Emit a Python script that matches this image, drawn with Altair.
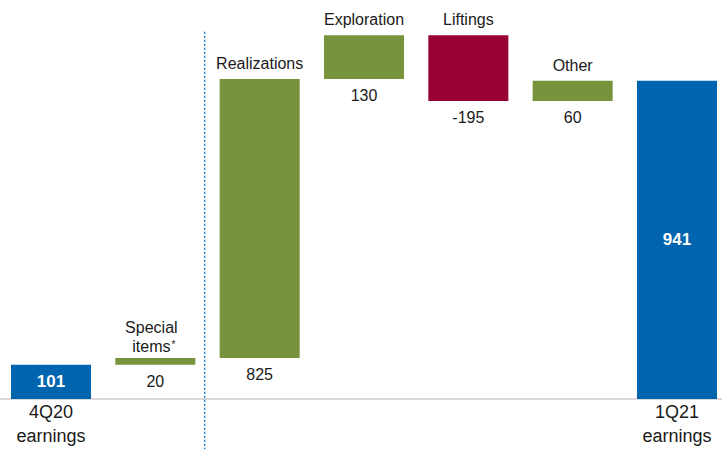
import altair as alt
import pandas as pd

# Earnings bridge, 4Q20 -> 1Q21 ($MM)
keys = ["q4", "special", "realiz", "explor", "lift", "other", "q1"]
amounts = [101, 20, 825, 130, -195, 60, 941]
kinds = ["total", "delta", "delta", "delta", "delta", "delta", "total"]
top_labels = ["", "Special\nitems", "Realizations", "Exploration", "Liftings", "Other", ""]
bottom_labels = ["4Q20\nearnings", "", "", "", "", "", "1Q21\nearnings"]

BLUE = "#0064AF"
GREEN = "#77933C"
RED = "#990033"

rows = []
running = 0
for k, a, kind, tl, bl in zip(keys, amounts, kinds, top_labels, bottom_labels):
    if kind == "total":
        start, end = 0, a
        running = a
    else:
        start, end = running, running + a
        running = end
    color = BLUE if kind == "total" else (GREEN if a >= 0 else RED)
    rows.append(dict(key=k, amount=a, kind=kind, start=start, end=end,
                     hi=max(start, end), lo=min(start, end), mid=(start + end) / 2,
                     color=color, toplab=tl, botlab=bl,
                     val=str(a)))
df = pd.DataFrame(rows)

x = alt.X("key:N", sort=keys, axis=None,
          scale=alt.Scale(paddingInner=0.233, paddingOuter=0))
y_scale = alt.Scale(domain=[0, 1180], nice=False, zero=True)

base = alt.Chart(df)

bars = base.mark_bar().encode(
    x=x,
    y=alt.Y("start:Q", scale=y_scale, axis=None),
    y2="end:Q",
    color=alt.Color("color:N", scale=None),
)

font = "Liberation Sans"
INK = "#1a1a1a"

# single-line captions above the bars
top_text = base.transform_filter(
    "datum.toplab != '' && indexof(datum.toplab, '\\n') < 0"
).mark_text(
    baseline="bottom", dy=-7, fontSize=16, font=font, color=INK,
).encode(x=x, y=alt.Y("hi:Q", scale=y_scale, axis=None), text="toplab:N")

# two-line caption (Special items)
top_text2 = base.transform_filter(
    "indexof(datum.toplab, '\\n') >= 0"
).mark_text(
    baseline="bottom", dx=-4, dy=-22, fontSize=16, font=font, color=INK,
    lineBreak="\n", lineHeight=19,
).encode(x=x, y=alt.Y("hi:Q", scale=y_scale, axis=None), text="toplab:N")

star = base.transform_filter("datum.key == 'special'").mark_text(
    baseline="top", dx=18, dy=-18, fontSize=10, font=font, color=INK, text="*",
).encode(x=x, y=alt.Y("hi:Q", scale=y_scale, axis=None))

delta_vals = base.transform_filter("datum.kind == 'delta'").mark_text(
    baseline="middle", dy=17, fontSize=16, font=font, color=INK,
).encode(x=x, y=alt.Y("lo:Q", scale=y_scale, axis=None), text="val:N")

total_vals = base.transform_filter("datum.kind == 'total'").mark_text(
    baseline="middle", fontSize=17, fontWeight="bold", font=font, color="white",
).encode(x=x, y=alt.Y("mid:Q", scale=y_scale, axis=None), text="val:N")

bottom_text = base.transform_filter("datum.botlab != ''").mark_text(
    baseline="top", dy=5, fontSize=18, font=font, color=INK,
    lineBreak="\n", lineHeight=24,
).encode(x=x, y=alt.Y("lo:Q", scale=y_scale, axis=None), text="botlab:N")

# zero line across the full width
baseline_rule = base.transform_filter("datum.key == 'q4'").mark_rule(
    color="#d9d9d9", strokeWidth=2
).encode(
    y=alt.Y("lo:Q", scale=y_scale, axis=None),
    x=alt.value(-11), x2=alt.value(711),
)

# dotted separator between the opening items and the operating drivers
divider = base.transform_filter("datum.key == 'realiz'").transform_calculate(
    y_top="datum.hi + 140", y_bot="-150"
).mark_rule(
    color="#0070C0", strokeWidth=1.3, strokeDash=[2, 2], xOffset=-55
).encode(
    x=x,
    y=alt.Y("y_top:Q", scale=y_scale, axis=None),
    y2="y_bot:Q",
)

chart = alt.layer(
    baseline_rule, divider, bars, top_text, top_text2, star,
    delta_vals, total_vals, bottom_text
).properties(
    width=706, height=399,
    padding={"left": 11, "top": 0, "right": 5, "bottom": 50},
    autosize=alt.AutoSizeParams(type="none"),
).configure_view(strokeWidth=0)

chart.save("out.html", embed_options={"renderer": "svg", "actions": False})
